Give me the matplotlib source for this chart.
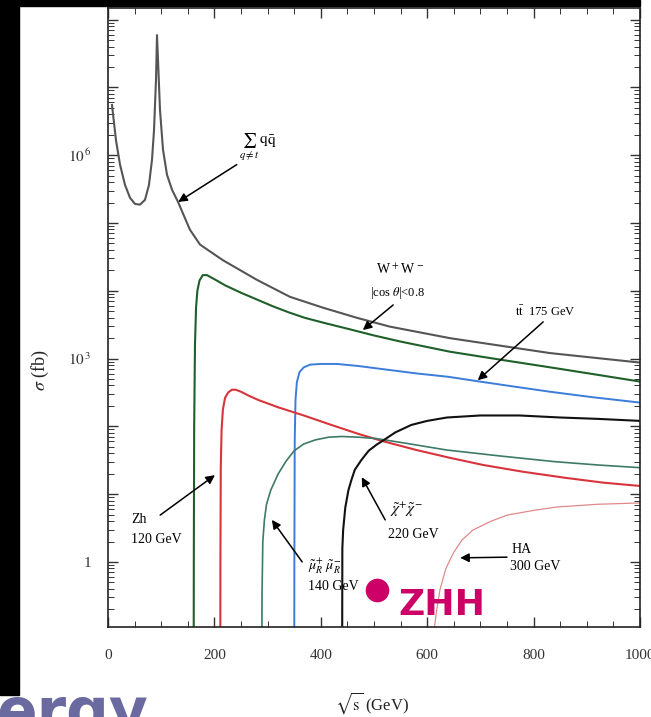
import numpy as np
import matplotlib
matplotlib.use("Agg")
import matplotlib.pyplot as plt
from matplotlib.ticker import FixedLocator, FuncFormatter, MultipleLocator
from matplotlib.patches import Rectangle

plt.rcParams['font.family'] = ['Liberation Serif', 'DejaVu Serif']
plt.rcParams['mathtext.fontset'] = 'stix'

# ---------------- data (sqrt(s) in GeV, sigma in fb; values given as log10) ----------------
qq_x = [7.5, 15, 22.6, 32, 41.4, 50.8, 60.2, 69.5, 77, 82.7, 86.5, 90.2, 92.1, 94, 97.7,
        103.4, 110.9, 120.3, 131.6, 154, 173, 216, 280, 342, 404, 468, 530, 643, 831, 1000]
qq_logy = [6.74, 6.22, 5.86, 5.56, 5.37, 5.28, 5.27, 5.34, 5.56, 5.93, 6.37, 7.11, 7.77, 7.40,
           6.67, 6.08, 5.71, 5.49, 5.31, 4.90, 4.68, 4.45, 4.16, 3.91, 3.75, 3.60, 3.47, 3.30,
           3.08, 2.94]

ww_x = [161, 161.3, 162, 163.5, 165.5, 168, 172, 178, 186, 200, 220, 250, 280, 310, 340, 370,
        404, 455, 500, 550, 643, 740, 831, 920, 1000]
ww_logy = [-2, 0, 2, 3.2, 3.75, 4.0, 4.15, 4.23, 4.23, 4.17, 4.08, 3.97, 3.87, 3.77, 3.68, 3.6,
           3.53, 3.43, 3.34, 3.25, 3.1, 2.98, 2.87, 2.76, 2.66]

tt_x = [350, 350.3, 351, 352.5, 355, 360, 368, 380, 400, 430, 470, 520, 580, 640, 699, 760,
        831, 910, 1000]
tt_logy = [-2, 0, 1.8, 2.4, 2.65, 2.8, 2.87, 2.91, 2.92, 2.92, 2.89, 2.84, 2.78, 2.73, 2.66,
           2.59, 2.51, 2.43, 2.35]

zh_x = [211, 211.3, 212, 213.5, 216, 220, 226, 233, 240, 250, 265, 282, 320, 368, 420, 470,
        517, 580, 640, 705, 780, 860, 930, 1000]
zh_logy = [-2, 0, 1.4, 1.95, 2.25, 2.42, 2.5, 2.54, 2.54, 2.51, 2.45, 2.39, 2.28, 2.16, 2.02,
           1.89, 1.78, 1.65, 1.54, 1.43, 1.33, 1.24, 1.17, 1.12]

smu_x = [289, 289.5, 291, 294, 298, 306, 320, 335, 350, 368, 390, 415, 440, 470, 504, 560,
         637, 740, 838, 920, 1000]
smu_logy = [-2, -0.5, 0.3, 0.62, 0.85, 1.06, 1.3, 1.49, 1.64, 1.74, 1.8, 1.84, 1.85, 1.84,
            1.82, 1.75, 1.65, 1.56, 1.48, 1.43, 1.39]

chi_x = [440, 440.5, 442, 446, 452, 458, 464, 476, 490, 505, 517, 540, 570, 600, 637, 700,
         773, 850, 920, 1000]
chi_logy = [-2, 0.2, 0.47, 0.8, 1.06, 1.22, 1.36, 1.5, 1.64, 1.73, 1.79, 1.91, 2.02, 2.08,
            2.13, 2.16, 2.16, 2.13, 2.11, 2.08]

ha_x = [610, 613, 618, 624, 635, 649, 665, 686, 720, 750, 800, 844, 920, 1000]
ha_logy = [-2, -1.0, -0.7, -0.41, -0.1, 0.13, 0.32, 0.47, 0.6, 0.69, 0.76, 0.81, 0.85, 0.87]

x_ticks = [0, 200, 400, 600, 800, 1000]
y_label_exps = [0, 3, 6]

# ---------------- figure ----------------
W, H = 651, 717
fig = plt.figure(figsize=(W / 100, H / 100), dpi=100)
fig.patch.set_facecolor('white')


def fx(px):
    return px / W


def fy(py):
    return 1 - py / H


# black frame parts of the slide screenshot
fig.patches.append(Rectangle((0, fy(695)), fx(19), 1 - fy(695), transform=fig.transFigure,
                             color='black', zorder=0))
fig.patches.append(Rectangle((0, fy(6)), fx(640), 1 - fy(6), transform=fig.transFigure,
                             color='black', zorder=0))

ax = fig.add_axes([fx(108), fy(627), fx(640) - fx(108), fy(8) - fy(627)])
ax.set_yscale('log')
ax.set_xlim(0, 1000)
ax.set_ylim(10**(-0.96), 10**8.17)


def pw(vals):
    return [10.0**v for v in vals]


ax.plot(qq_x, pw(qq_logy), color='#555555', lw=1.5, solid_joinstyle='round')
ax.plot(ww_x, pw(ww_logy), color='#1f5f2a', lw=1.5, solid_joinstyle='round')
ax.plot(tt_x, pw(tt_logy), color='#3b7dd8', lw=1.4, solid_joinstyle='round')
ax.plot(zh_x, pw(zh_logy), color='#d8343c', lw=1.5, solid_joinstyle='round')
ax.plot(smu_x, pw(smu_logy), color='#3d7a68', lw=1.2, solid_joinstyle='round')
ax.plot(chi_x, pw(chi_logy), color='#111111', lw=1.5, solid_joinstyle='round')
ax.plot(ha_x, pw(ha_logy), color='#e08a8a', lw=0.9, solid_joinstyle='round')

for s in ax.spines.values():
    s.set_linewidth(1.2)
    s.set_color('#222222')

ax.xaxis.set_major_locator(FixedLocator(x_ticks))
ax.xaxis.set_minor_locator(MultipleLocator(50))
ax.set_xticklabels([str(v) for v in x_ticks])
decades = list(range(-1, 9))
ax.yaxis.set_major_locator(FixedLocator([10.0**d for d in decades]))
ax.yaxis.set_minor_locator(FixedLocator([m * 10.0**d for d in decades for m in range(2, 10)]))


def ylab(v, pos):
    e = int(round(np.log10(v)))
    if e not in y_label_exps:
        return ''
    if e == 0:
        return '1'
    return r'$10^{\,%d}$' % e


ax.yaxis.set_major_formatter(FuncFormatter(ylab))
ax.tick_params(which='both', direction='in', top=True, right=True, color='#333333')
ax.tick_params(which='major', length=7, width=1.0)
ax.tick_params(which='minor', length=4, width=0.7)
ax.tick_params(axis='x', which='major', pad=16, labelsize=11, labelcolor='#333333')
ax.tick_params(axis='y', which='major', pad=12, labelsize=11, labelcolor='#333333')

fig.text(fx(40), fy(370), r'$\sigma$ (fb)', rotation=90, ha='center', va='center',
         fontsize=13, color='#222222')
fig.text(fx(372), fy(703), r'$\sqrt{\mathrm{s}}$ (GeV)', ha='center', va='center',
         fontsize=12, color='#222222')

# ---------------- annotations ----------------


def lg(v):
    return 10**v


arrow = dict(arrowstyle='-|>', color='black', lw=1.1, mutation_scale=13,
             shrinkA=0, shrinkB=0)
fs = 10

ax.annotate('', xy=(132, lg(5.31)), xytext=(242, lg(5.86)), arrowprops=arrow)
ax.text(282, lg(6.11), r'$\sum_{q\neq t}\,\mathrm{q\bar{q}}$', ha='center', va='center',
        fontsize=11)

ax.annotate('', xy=(479, lg(3.42)), xytext=(536, lg(3.79)), arrowprops=arrow)
ax.text(549, lg(4.31), r'W$^{\,+}$W$^{\,-}$', ha='center', va='center', fontsize=fs)
ax.text(545, lg(3.97), r'|cos $\theta$|<0.8', ha='center', va='center', fontsize=fs - 1)

ax.annotate('', xy=(695, lg(2.68)), xytext=(818, lg(3.54)), arrowprops=arrow)
ax.text(821, lg(3.69), r'$\mathrm{t\bar{t}}$  175 GeV', ha='center', va='center', fontsize=fs - 1)

ax.annotate('', xy=(201, lg(1.28)), xytext=(98, lg(0.69)), arrowprops=arrow)
ax.text(43, lg(0.62), 'Zh', ha='left', va='center', fontsize=fs)
ax.text(43, lg(0.33), '120 GeV', ha='left', va='center', fontsize=fs)

ax.annotate('', xy=(308, lg(0.62)), xytext=(365, lg(0.0)), arrowprops=arrow)
ax.text(376, lg(-0.07), r'$\tilde{\mu}^{+}_{R}\;\tilde{\mu}^{-}_{R}$', ha='left', va='center',
        fontsize=fs)
ax.text(376, lg(-0.37), '140 GeV', ha='left', va='center', fontsize=fs)

ax.annotate('', xy=(477, lg(1.25)), xytext=(521, lg(0.62)), arrowprops=arrow)
ax.text(530, lg(0.77), r'$\tilde{\chi}^{+}\tilde{\chi}^{-}$', ha='left', va='center',
        fontsize=fs + 1)
ax.text(526, lg(0.40), '220 GeV', ha='left', va='center', fontsize=fs)

ax.annotate('', xy=(662, lg(0.06)), xytext=(750, lg(0.07)), arrowprops=arrow)
ax.text(759, lg(0.18), 'HA', ha='left', va='center', fontsize=fs)
ax.text(756, lg(-0.07), '300 GeV', ha='left', va='center', fontsize=fs)

# ZHH marker
ax.plot([506], [lg(-0.41)], marker='o', ms=17, color='#cc0066', mec='none', clip_on=False,
        zorder=5)
ax.text(545, lg(-0.78), 'ZHH', ha='left', va='baseline', fontsize=26, fontweight='bold',
        color='#cc0066', family='DejaVu Sans', zorder=5)

# cropped slide title fragment
fig.text(fx(-4), fy(731), 'ergy', ha='left', va='baseline', fontsize=43, fontweight='bold',
         color='#6a6aa0', family='DejaVu Sans')

fig.savefig('out.png', dpi=100)
